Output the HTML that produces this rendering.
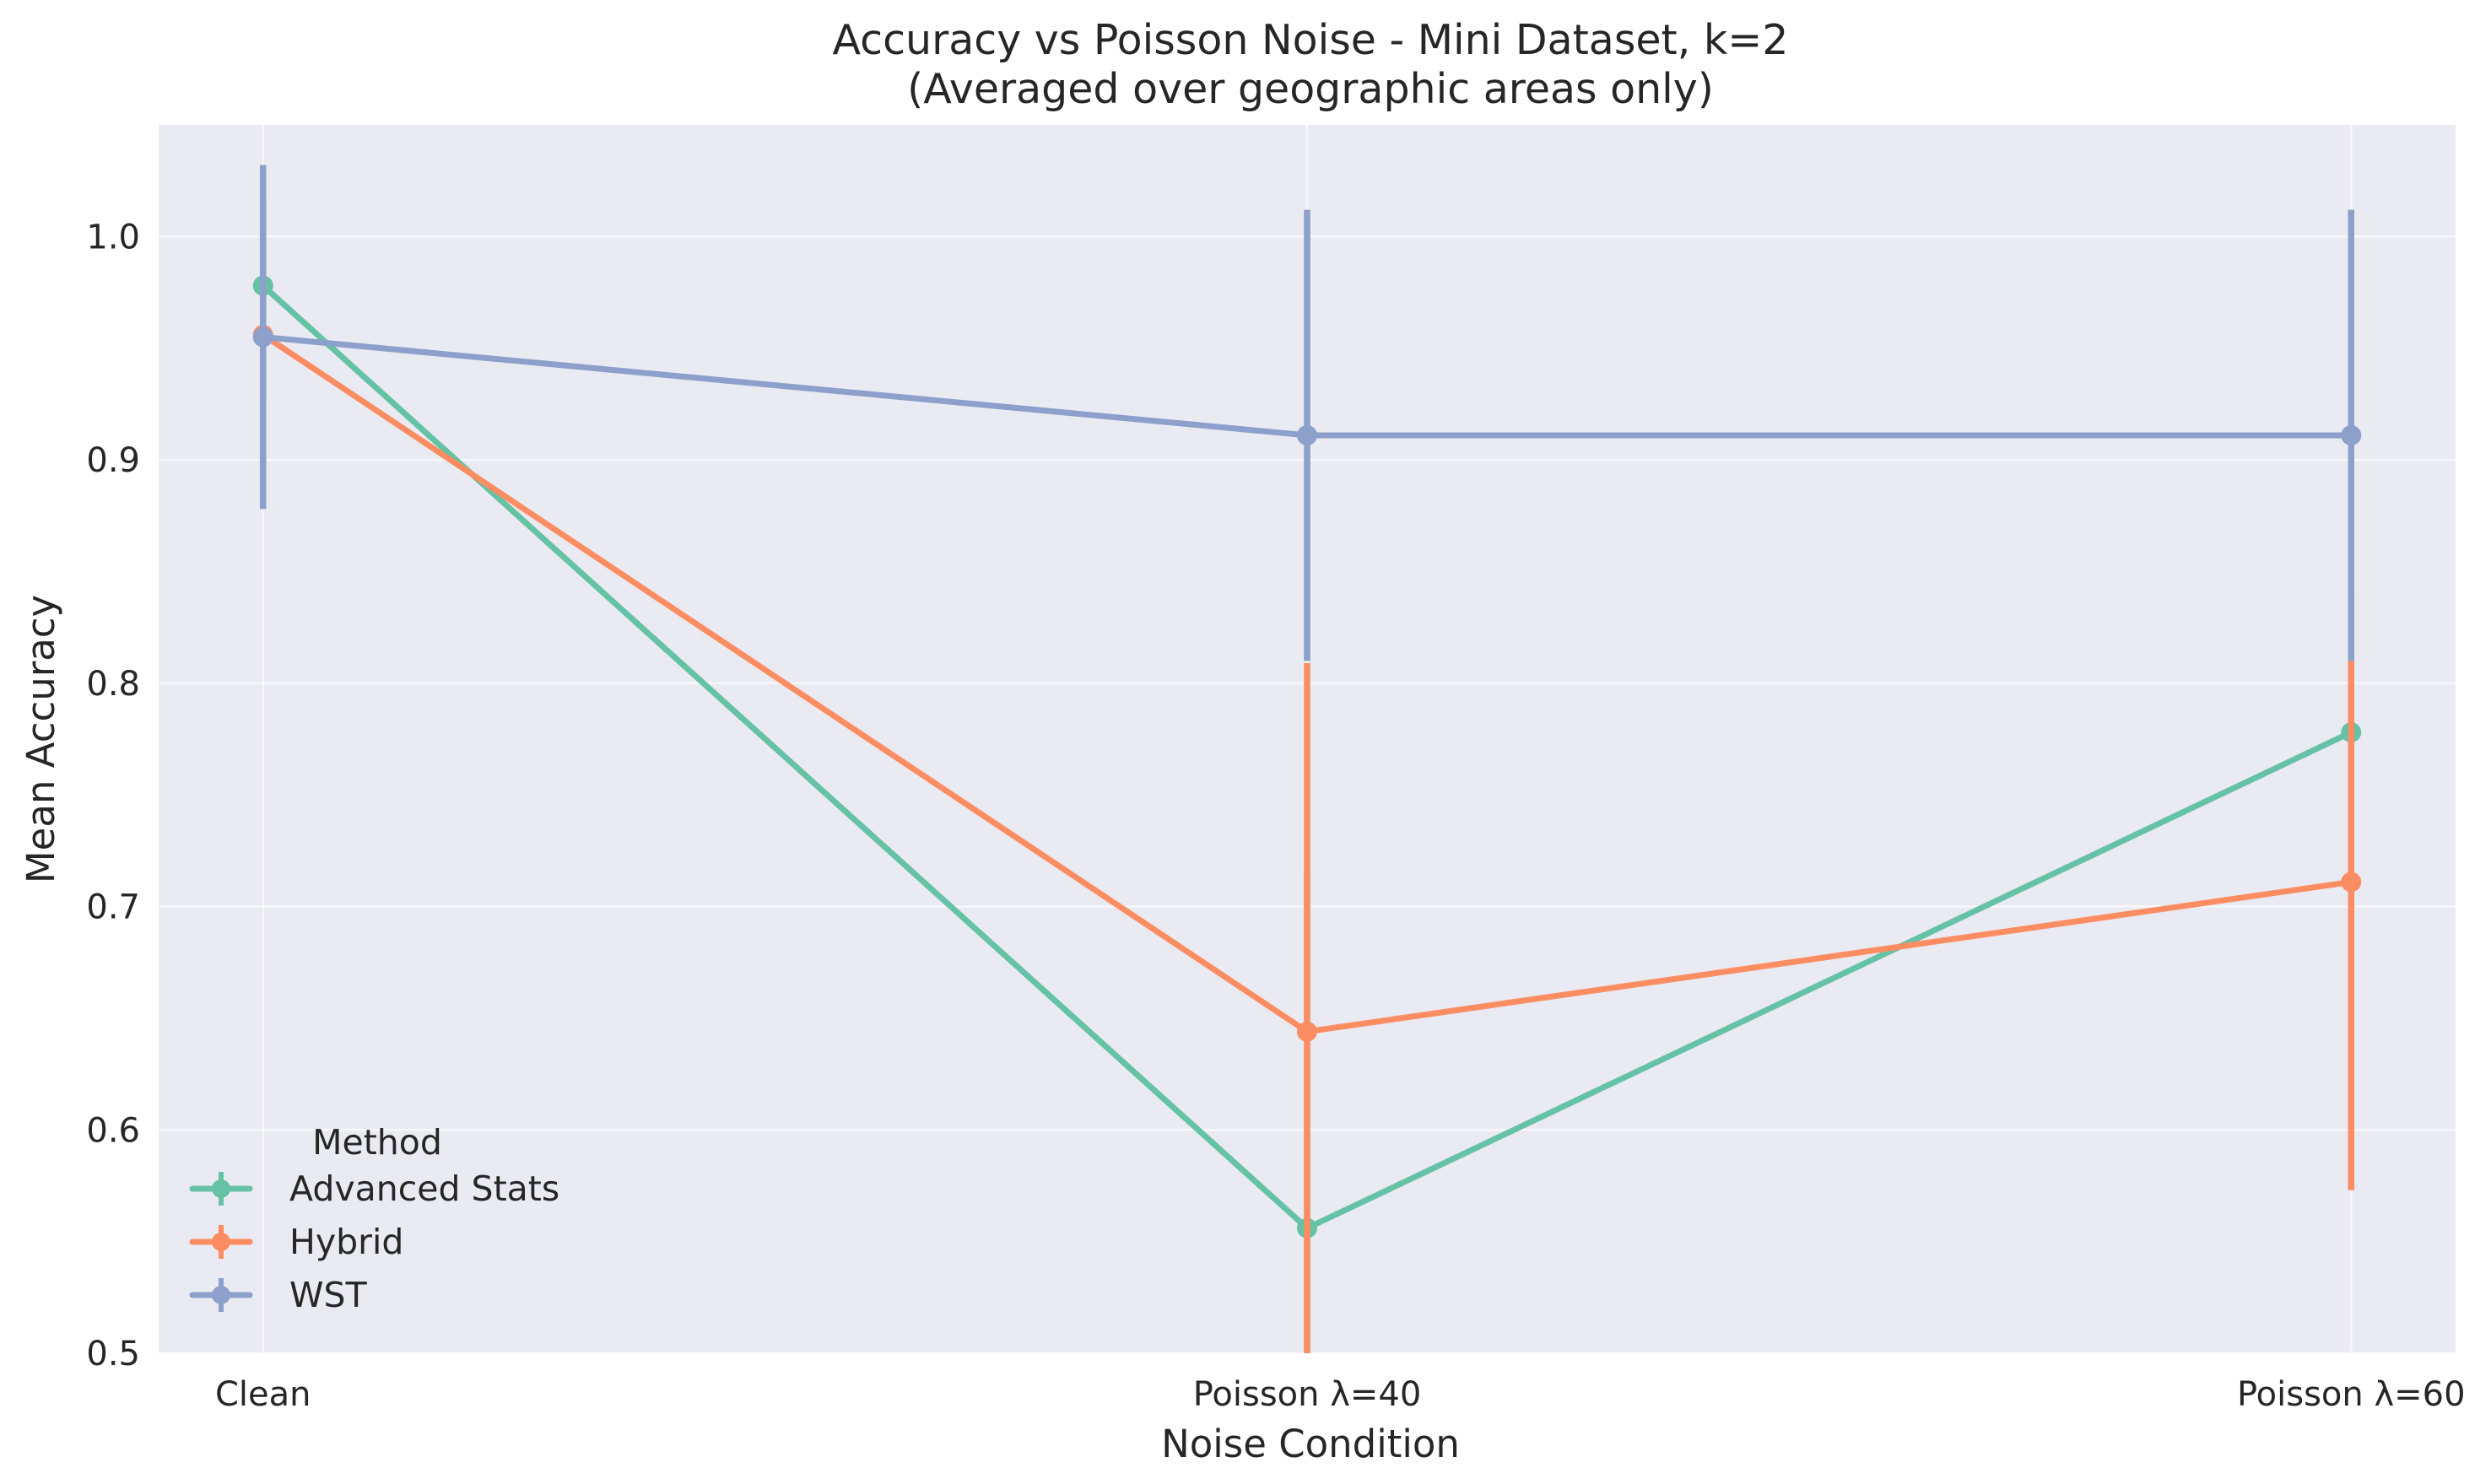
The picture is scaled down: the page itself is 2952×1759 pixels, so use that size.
<!DOCTYPE html>
<html><head><meta charset="utf-8"><style>
html,body{margin:0;background:#fff;overflow:hidden;width:2952px;height:1759px}
svg{display:block;font-family:"DejaVu Sans","Liberation Sans",sans-serif}
</style></head><body>
<svg id="chart" width="2952" height="1759" viewBox="0 0 2952 1759" xmlns="http://www.w3.org/2000/svg">
<text x="1553" y="64" font-size="49" text-anchor="middle" fill="#262626">Accuracy vs Poisson Noise - Mini Dataset, k=2</text>
<text x="1553" y="122" font-size="49" text-anchor="middle" fill="#262626">(Averaged over geographic areas only)</text>
<rect x="188" y="148" width="2722" height="1456" fill="#eaeaf2"/>
<g id="grid"></g>
<g id="yticks"></g>
<g id="xticks"></g>
<g id="series"></g>
<text x="1553" y="1727" font-size="45" text-anchor="middle" fill="#262626">Noise Condition</text>
<text transform="translate(64,876) rotate(-90)" font-size="45" text-anchor="middle" fill="#262626">Mean Accuracy</text>
<g id="legend"></g>
</svg>
<script>
const categories = ["Clean", "Poisson \u03bb=40", "Poisson \u03bb=60"];
const seriesNames = ["Advanced Stats", "Hybrid", "WST"];
const advancedValues = [0.978, 0.556, 0.778];
const advancedErrors = [0.04, 0.16, 0.06];
const hybridValues = [0.956, 0.644, 0.711];
const hybridErrors = [0.03, 0.165, 0.138];
const wstValues = [0.955, 0.911, 0.911];
const wstErrors = [0.077, 0.101, 0.101];
const yTicks = [0.5, 0.6, 0.7, 0.8, 0.9, 1.0];
const yTickLabels = ["0.5", "0.6", "0.7", "0.8", "0.9", "1.0"];

const NS = "http://www.w3.org/2000/svg";
const L = 188, R = 2910, T = 148, B = 1604;
const yMin = 0.5, yMax = 1.05, xMin = -0.1, xMax = 2.1;
const xs = i => L + (i - xMin) / (xMax - xMin) * (R - L);
const ys = v => Math.max(T, Math.min(B, B - (v - yMin) / (yMax - yMin) * (B - T)));
function mk(tag, attrs, parent) {
  const e = document.createElementNS(NS, tag);
  for (const k in attrs) e.setAttribute(k, attrs[k]);
  parent.appendChild(e);
  return e;
}
const grid = document.getElementById('grid');
const yt = document.getElementById('yticks');
yTicks.forEach((v, i) => {
  const g = mk('line', {x1: L, x2: R, y1: ys(v), y2: ys(v), stroke: '#fff', 'stroke-width': 2.5, 'stroke-opacity': 0.6}, grid);
  
  
  const t = mk('text', {x: L - 22, y: ys(v) + 14, 'font-size': 40, 'text-anchor': 'end', fill: '#262626'}, yt);
  t.textContent = yTickLabels[i];
  
  
});
const xt = document.getElementById('xticks');
categories.forEach((c, i) => {
  const g = mk('line', {x1: xs(i), x2: xs(i), y1: T, y2: B, stroke: '#fff', 'stroke-width': 2.5, 'stroke-opacity': 0.6}, grid);
  
  
  const t = mk('text', {x: xs(i), y: 1666, 'font-size': 40, 'text-anchor': 'middle', fill: '#262626'}, xt);
  t.textContent = c;
  
  
});
const colors = ['#66c2a5', '#fc8d62', '#8da0cb'];
const allVals = [advancedValues, hybridValues, wstValues];
const allErrs = [advancedErrors, hybridErrors, wstErrors];
const ser = document.getElementById('series');
allVals.forEach((vals, s) => {
  const g = mk('g', {}, ser);
  
  
  vals.forEach((v, i) => {
    const e = mk('line', {x1: xs(i), x2: xs(i), y1: ys(v - allErrs[s][i]), y2: ys(v + allErrs[s][i]), stroke: colors[s], 'stroke-width': 7.5}, g);
    
    
  });
  const p = mk('polyline', {points: vals.map((v, i) => xs(i) + ',' + ys(v)).join(' '), fill: 'none', stroke: colors[s], 'stroke-width': 7, 'stroke-linejoin': 'round'}, g);
  
  
  vals.forEach((v, i) => {
    const c = mk('circle', {cx: xs(i), cy: ys(v), r: 12, fill: colors[s]}, g);
    
    
  });
});
const leg = document.getElementById('legend');
const lt = mk('text', {x: 447, y: 1368, 'font-size': 41, 'text-anchor': 'middle', fill: '#262626'}, leg);
lt.textContent = 'Method';


seriesNames.forEach((n, s) => {
  const y = 1409 + s * 63;
  const g = mk('g', {}, leg);
  
  
  mk('line', {x1: 228, x2: 296, y1: y, y2: y, stroke: colors[s], 'stroke-width': 7, 'stroke-linecap': 'round'}, g);
  mk('line', {x1: 262, x2: 262, y1: y - 20, y2: y + 20, stroke: colors[s], 'stroke-width': 6}, g);
  mk('circle', {cx: 262, cy: y, r: 11, fill: colors[s]}, g);
  const t = mk('text', {x: 343, y: y + 14, 'font-size': 41, fill: '#262626'}, g);
  t.textContent = n;
});
</script>
</body></html>
